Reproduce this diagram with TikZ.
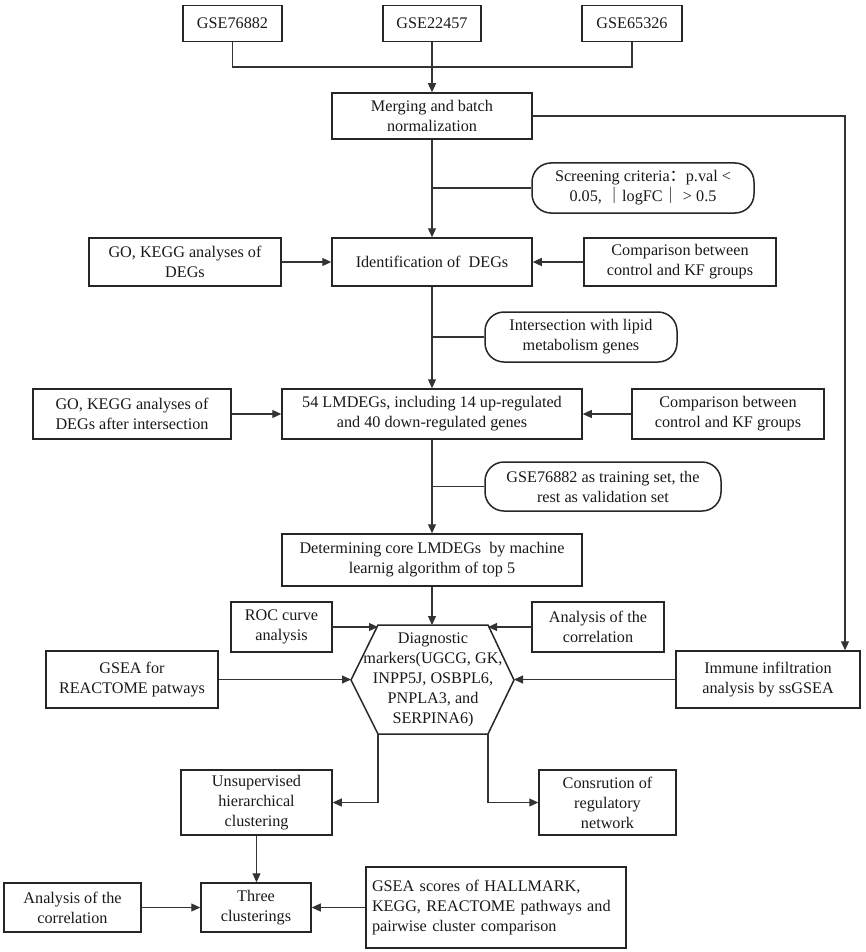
\documentclass[tikz,border=0pt]{standalone}
\usepackage{fontspec}
\setmainfont{Liberation Serif}
\newfontfamily\cjk{Noto Sans CJK SC}
\usetikzlibrary{arrows.meta}
\begin{document}
\begin{tikzpicture}[x=1pt,y=-1pt,
  every node/.style={font=\fontsize{16.2}{20}\selectfont, inner sep=0pt, align=center, text=black!90},
  bx/.style={draw=black!85, line width=1.5pt, rectangle},
  rbx/.style={draw=black!85, line width=1.5pt, rectangle, rounded corners=19pt},
  ln/.style={draw=black!80, line width=1.1pt},
  arr/.style={ln, -{Triangle[length=9pt,width=8pt]}}]
\useasboundingbox (0,0) rectangle (865,952);
\def\bxn#1#2#3#4#5#6{\node[bx, minimum width=#4pt, minimum height=#5pt] (#1) at (#2,#3) {#6};}
% top datasets
\bxn{g1}{232.5}{23.5}{99}{36}{GSE76882}
\bxn{g2}{432}{23.5}{98}{36}{GSE22457}
\bxn{g3}{632}{23.5}{100}{36}{GSE65326}
\bxn{merge}{432}{116}{200}{46}{Merging and batch\\normalization}
\node[rbx, minimum width=222pt, minimum height=50pt] (screen) at (643,188) {Screening criteria{\cjk ：}p.val <\\0.05, {\cjk ｜}logFC{\cjk ｜} > 0.5};
\bxn{degs}{432}{262}{200}{48}{Identification of\ \ DEGs}
\bxn{go1}{185}{262}{192}{48}{GO, KEGG analyses of\\DEGs}
\bxn{cmp1}{680}{262}{192}{48}{Comparison between\\control and KF groups}
\node[rbx, minimum width=192pt, minimum height=50pt] (inter) at (581,337) {Intersection with lipid\\metabolism genes};
\bxn{lmdeg}{432}{414}{300}{50}{54 LMDEGs, including 14 up-regulated\\and 40 down-regulated genes}
\bxn{go2}{132}{414}{198}{50}{GO, KEGG analyses of\\DEGs after intersection}
\bxn{cmp2}{728}{414}{192}{50}{Comparison between\\control and KF groups}
\node[rbx, minimum width=236pt, minimum height=49pt] (train) at (603,486.5) {GSE76882 as training set, the\\rest as validation set};
\bxn{determ}{432}{560}{300}{52}{Determining core LMDEGs\ \ by machine\\learnig algorithm of top 5}
\bxn{roc}{281.5}{627}{101}{50}{ROC curve\\analysis}
\bxn{corr1}{598}{627}{132}{50}{Analysis of the\\correlation}
\bxn{gseaR}{132}{679.5}{172}{57}{GSEA for\\REACTOME patways}
\bxn{immune}{768}{679.5}{184}{57}{Immune infiltration\\analysis by ssGSEA}
% hexagon
\coordinate (hTL) at (378,625);
\coordinate (hTR) at (488,625);
\coordinate (hR) at (514,680);
\coordinate (hBR) at (488,734);
\coordinate (hBL) at (378,734);
\coordinate (hL) at (351,680);
\draw[bx] (hTL) -- (hTR) -- (hR) -- (hBR) -- (hBL) -- (hL) -- cycle;
\node (hex) at (433,680) {Diagnostic\\markers(UGCG, GK,\\INPP5J, OSBPL6,\\PNPLA3, and\\SERPINA6)};
\bxn{unsup}{256.5}{802.5}{151}{65}{Unsupervised\\hierarchical\\clustering}
\bxn{consr}{607.5}{802.5}{137}{65}{Consrution of\\regulatory\\network}
\bxn{three}{256}{907.5}{110}{49}{Three\\clusterings}
\bxn{corr2}{72.5}{907.5}{137}{49}{Analysis of the\\correlation}
\node[bx, minimum width=260pt, minimum height=81pt, text width=248pt, align=left] (gseaS) at (496,907.5) {GSEA scores of HALLMARK,\\KEGG, REACTOME pathways and\\pairwise cluster comparison};
% connectors
\coordinate (j) at (432,67);
\draw[ln] (g1.south) |- (j);
\draw[ln] (g3.south) |- (j);
\draw[arr] (g2.south) -- (merge.north);
\coordinate (rx) at (845,116);
\draw[arr] (merge.east) -- (rx) -- (rx |- immune.north);
\draw[arr] (merge.south) -- (degs.north);
\draw[ln] (screen.west) -- (screen.west -| merge.south);
\draw[arr] (go1.east) -- (degs.west);
\draw[arr] (cmp1.west) -- (degs.east);
\draw[arr] (degs.south) -- (lmdeg.north);
\draw[ln] (inter.west) -- (inter.west -| degs.south);
\draw[arr] (go2.east) -- (lmdeg.west);
\draw[arr] (cmp2.west) -- (lmdeg.east);
\draw[arr] (lmdeg.south) -- (determ.north);
\draw[ln] (train.west) -- (train.west -| lmdeg.south);
\draw[arr] (determ.south) -- (determ.south |- hTL);
\draw[arr] (roc.east) -- (roc.east -| hTL);
\draw[arr] (corr1.west) -- (corr1.west -| hTR);
\draw[arr] (gseaR.east) -- (gseaR.east -| hL);
\draw[arr] (immune.west) -- (immune.west -| hR);
\draw[arr] (hBL) |- (unsup.east);
\draw[arr] (hBR) |- (consr.west);
\draw[arr] (unsup.south) -- (unsup.south |- three.north);
\draw[arr] (corr2.east) -- (three.west);
\draw[arr] (gseaS.west) -- (three.east);
\end{tikzpicture}
\end{document}
